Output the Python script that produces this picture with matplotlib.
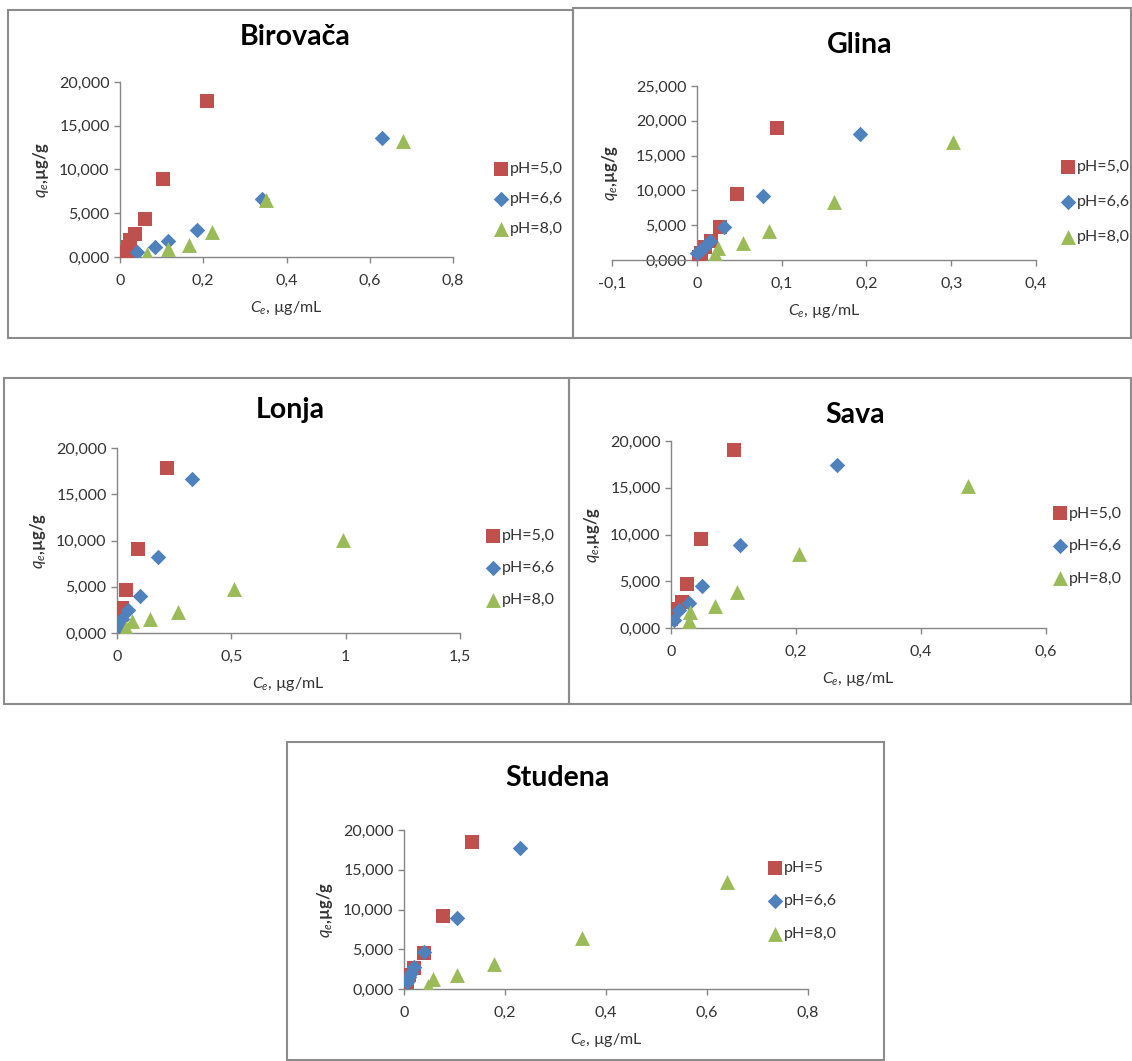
import matplotlib
matplotlib.use("Agg")
import matplotlib.pyplot as plt
from matplotlib.patches import Rectangle
from matplotlib.ticker import FuncFormatter, MultipleLocator

plt.rcParams["font.family"] = ["Lato", "DejaVu Sans"]
plt.rcParams["mathtext.fontset"] = "custom"
plt.rcParams["mathtext.rm"] = "Lato"
plt.rcParams["mathtext.it"] = "Lato:italic"
plt.rcParams["mathtext.bf"] = "Lato:bold"

W, H = 1132, 1061

series_labels = ["pH=5,0", "pH=6,6", "pH=8,0"]
studena_labels = ["pH=5", "pH=6,6", "pH=8,0"]

# Birovača
birovaca_ce_ph5 = [0.018, 0.02, 0.025, 0.035, 0.06, 0.103, 0.21]
birovaca_qe_ph5 = [0.6, 1.2, 1.9, 2.6, 4.3, 8.9, 17.8]
birovaca_ce_ph66 = [0.04, 0.085, 0.115, 0.185, 0.34, 0.63]
birovaca_qe_ph66 = [0.6, 1.2, 1.8, 3.1, 6.6, 13.6]
birovaca_ce_ph8 = [0.065, 0.115, 0.165, 0.22, 0.35, 0.68]
birovaca_qe_ph8 = [0.3, 0.9, 1.4, 2.9, 6.5, 13.2]

# Glina
glina_ce_ph5 = [0.003, 0.005, 0.01, 0.017, 0.027, 0.047, 0.095]
glina_qe_ph5 = [0.5, 1.0, 1.8, 2.8, 4.7, 9.5, 19.0]
glina_ce_ph66 = [0.0, 0.005, 0.01, 0.015, 0.032, 0.078, 0.192]
glina_qe_ph66 = [1.0, 1.5, 2.0, 2.8, 4.7, 9.2, 18.1]
glina_ce_ph8 = [0.022, 0.025, 0.054, 0.085, 0.162, 0.302]
glina_qe_ph8 = [0.8, 1.7, 2.4, 4.1, 8.4, 17.0]

# Lonja
lonja_ce_ph5 = [0.005, 0.015, 0.02, 0.04, 0.09, 0.22]
lonja_qe_ph5 = [1.0, 1.9, 2.7, 4.6, 9.1, 17.8]
lonja_ce_ph66 = [0.01, 0.02, 0.05, 0.1, 0.18, 0.33]
lonja_qe_ph66 = [0.8, 1.5, 2.5, 4.0, 8.2, 16.7]
lonja_ce_ph8 = [0.04, 0.065, 0.145, 0.265, 0.51, 0.99]
lonja_qe_ph8 = [0.5, 1.3, 1.5, 2.3, 4.8, 10.1]

# Sava
sava_ce_ph5 = [0.0, 0.005, 0.017, 0.025, 0.048, 0.1]
sava_qe_ph5 = [1.0, 2.0, 2.8, 4.7, 9.5, 19.0]
sava_ce_ph66 = [0.004, 0.013, 0.028, 0.05, 0.11, 0.265]
sava_qe_ph66 = [0.9, 1.9, 2.7, 4.5, 8.9, 17.4]
sava_ce_ph8 = [0.028, 0.03, 0.07, 0.105, 0.205, 0.475]
sava_qe_ph8 = [0.7, 1.7, 2.3, 3.9, 7.9, 15.2]

# Studena
studena_ce_ph5 = [0.005, 0.01, 0.02, 0.04, 0.077, 0.135]
studena_qe_ph5 = [0.9, 1.7, 2.7, 4.5, 9.2, 18.5]
studena_ce_ph66 = [0.006, 0.01, 0.013, 0.02, 0.04, 0.105, 0.23]
studena_qe_ph66 = [0.9, 1.5, 2.0, 2.8, 4.6, 8.9, 17.7]
studena_ce_ph8 = [0.047, 0.057, 0.105, 0.178, 0.352, 0.64]
studena_qe_ph8 = [0.4, 1.3, 1.8, 3.1, 6.4, 13.5]

colors = ["#C0504D", "#4F81BD", "#9BBB59"]
markers = [("s", 115), ("D", 62), ("^", 115)]
spine_col = "#868686"


def fbox(l, t, r, b):
    return [l / W, 1 - b / H, (r - l) / W, (b - t) / H]


def decimal_comma(fmt):
    return FuncFormatter(lambda v, _: (fmt % v).replace(".", ","))


fig = plt.figure(figsize=(W / 100, H / 100), dpi=100)

# panel frames
for l, t, r, b in [(8, 10, 573, 338), (573, 8, 1131, 338), (4, 378, 569, 704),
                   (569, 378, 1131, 704), (287, 742, 884, 1060)]:
    fig.patches.append(Rectangle((l / W, 1 - b / H), (r - l) / W, (b - t) / H,
                                 transform=fig.transFigure, fill=False,
                                 edgecolor="#8c8c8c", linewidth=1.5))


def panel(title, data, labels, axbox, xlim, xstep, ylim, title_xy, leg_xy, spacing):
    ax = fig.add_axes(fbox(*axbox))
    for (xs, ys), c, (m, s), lab in zip(data, colors, markers, labels):
        ax.scatter(xs, ys, marker=m, s=s, color=c, label=lab, zorder=3, linewidths=0)
    ax.set_xlim(*xlim)
    ax.set_ylim(*ylim)
    ax.xaxis.set_major_locator(MultipleLocator(xstep))
    ax.yaxis.set_major_locator(MultipleLocator(5))
    ax.xaxis.set_major_formatter(FuncFormatter(
        lambda v, _: "0" if abs(v) < 1e-9 else (("%g" % round(v, 3)).replace(".", ","))))
    ax.yaxis.set_major_formatter(decimal_comma("%.3f"))
    for side in ["top", "right"]:
        ax.spines[side].set_visible(False)
    for side in ["left", "bottom"]:
        ax.spines[side].set_color(spine_col)
        ax.spines[side].set_linewidth(1.0)
    if xlim[0] < 0:
        ax.spines["left"].set_position(("data", 0))
    ax.tick_params(colors=spine_col, labelcolor="#333333", labelsize=11.5, length=4, width=1.0)
    ax.tick_params(axis="x", pad=8)
    ax.set_xlabel(r"$C_e$, µg/mL", fontsize=11.5, color="#333333", labelpad=8)
    ax.set_ylabel(r"$q_e$,µg/g", fontsize=12, color="#333333", fontweight="bold", labelpad=6)
    if xlim[0] < 0:
        ax.yaxis.set_label_coords(0.018, 0.5)
    fig.text(title_xy[0] / W, 1 - title_xy[1] / H, title, fontsize=20.5, fontweight="bold",
             ha="center", va="center", color="black")
    ax.legend(loc="center left", bbox_to_anchor=(leg_xy[0] / W, 1 - leg_xy[1] / H),
              bbox_transform=fig.transFigure, frameon=False, fontsize=11.5,
              handletextpad=0.05, handlelength=1.0, labelspacing=spacing, borderpad=0,
              labelcolor="#333333")
    return ax


panel("Birovača",
      [(birovaca_ce_ph5, birovaca_qe_ph5), (birovaca_ce_ph66, birovaca_qe_ph66),
       (birovaca_ce_ph8, birovaca_qe_ph8)],
      series_labels, (120, 82, 453, 257), (0, 0.8), 0.2, (0, 20), (295, 37), (485, 199), 1.0)

panel("Glina",
      [(glina_ce_ph5, glina_qe_ph5), (glina_ce_ph66, glina_qe_ph66),
       (glina_ce_ph8, glina_qe_ph8)],
      series_labels, (612, 86, 1036, 260), (-0.1, 0.4), 0.1, (0, 25), (860, 45), (1052, 202), 1.3)

panel("Lonja",
      [(lonja_ce_ph5, lonja_qe_ph5), (lonja_ce_ph66, lonja_qe_ph66),
       (lonja_ce_ph8, lonja_qe_ph8)],
      series_labels, (117, 448, 460, 633), (0, 1.5), 0.5, (0, 20), (290, 410), (477, 568), 1.1)

panel("Sava",
      [(sava_ce_ph5, sava_qe_ph5), (sava_ce_ph66, sava_qe_ph66),
       (sava_ce_ph8, sava_qe_ph8)],
      series_labels, (671, 441, 1046, 628), (0, 0.6), 0.2, (0, 20), (855, 415), (1044, 546), 1.15)

panel("Studena",
      [(studena_ce_ph5, studena_qe_ph5), (studena_ce_ph66, studena_qe_ph66),
       (studena_ce_ph8, studena_qe_ph8)],
      studena_labels, (404, 830, 808, 989), (0, 0.8), 0.2, (0, 20), (558, 778), (759, 901), 1.2)

fig.savefig("out.png", dpi=100)
